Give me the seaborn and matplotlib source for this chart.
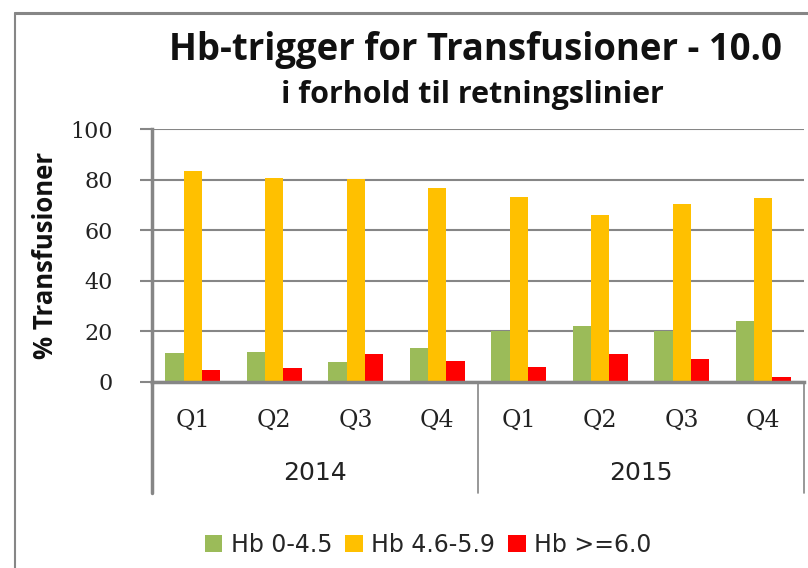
import matplotlib
matplotlib.use("Agg")
import matplotlib.pyplot as plt
import matplotlib.transforms as mtransforms
from matplotlib.patches import Patch
import seaborn as sns
import pandas as pd

years = ["2014", "2014", "2014", "2014", "2015", "2015", "2015", "2015"]
quarters = ["Q1", "Q2", "Q3", "Q4", "Q1", "Q2", "Q3", "Q4"]
series_names = ["Hb 0-4.5", "Hb 4.6-5.9", "Hb >=6.0"]
hb_low = [11.6, 12.0, 8.0, 13.6, 20.2, 22.3, 20.3, 24.2]
hb_mid = [83.5, 80.8, 80.4, 76.8, 73.3, 66.1, 70.5, 72.9]
hb_high = [4.9, 5.7, 11.2, 8.4, 6.1, 11.2, 9.2, 2.1]
yticks = [0, 20, 40, 60, 80, 100]
colors = ["#9BBB59", "#FFC000", "#FF0000"]

periods = [f"{y} {q}" for y, q in zip(years, quarters)]
rows = []
for name, vals in zip(series_names, [hb_low, hb_mid, hb_high]):
    for p, v in zip(periods, vals):
        rows.append({"period": p, "serie": name, "value": v})
df = pd.DataFrame(rows)

sns.set_theme(style="white")
plt.rcParams["font.family"] = ["Open Sans", "DejaVu Sans"]

W, H = 808, 568
fig = plt.figure(figsize=(W / 100, H / 100), dpi=100)
ax = fig.add_axes([152 / W, (H - 382) / H, (804 - 152) / W, (382 - 129) / H])

sns.barplot(data=df, x="period", y="value", hue="serie", order=periods,
            hue_order=series_names, palette=colors, width=0.68, gap=0,
            saturation=1, errorbar=None, ax=ax, legend=False, linewidth=0)

ax.set_ylim(0, 100)
ax.set_xlim(-0.5, 7.5)
ax.set_yticks(yticks)
ax.set_yticklabels([str(t) for t in yticks], family="DejaVu Serif", fontsize=16, color="#222222")
ax.tick_params(axis="y", length=9, width=1.5, color="#868686", pad=19, direction="out", left=True)
ax.tick_params(axis="x", length=0, pad=0)
ax.set_xticks(range(8))
ax.set_xticklabels([])
ax.grid(axis="y", color="#868686", linewidth=1.5)
ax.set_axisbelow(True)
for s in ["top", "right"]:
    ax.spines[s].set_visible(False)
ax.spines["left"].set_color("#868686")
ax.spines["left"].set_linewidth(2.5)
ax.spines["bottom"].set_color("#868686")
ax.spines["bottom"].set_linewidth(2.5)
ax.set_xlabel("")
ax.set_ylabel("% Transfusioner", fontsize=18.5, fontweight="bold", labelpad=8, color="#111111")

trans = mtransforms.blended_transform_factory(ax.transData, ax.transAxes)
px = 1.0 / (382 - 129)
for i, q in enumerate(quarters):
    ax.text(i, -38 * px, q, transform=trans, ha="center", va="center",
            family="DejaVu Serif", fontsize=17, color="#222222")
for x0, lbl in [(1.5, "2014"), (5.5, "2015")]:
    ax.text(x0, -91 * px, lbl, transform=trans, ha="center", va="center",
            family="DejaVu Sans", fontsize=18, color="#222222")
for xs, lw in [(-0.5, 2.5), (3.5, 1.2), (7.5, 1.2)]:
    ax.plot([xs, xs], [0, -111 * px], transform=trans, color="#868686",
            lw=lw, clip_on=False)

fig.text(475 / W, 1 - 50 / H, "Hb-trigger for Transfusioner - 10.0", ha="center",
         va="center", fontsize=26.3, fontweight="bold", color="#111111")
fig.text(472 / W, 1 - 95 / H, "i forhold til retningslinier", ha="center",
         va="center", fontsize=22, fontweight="bold", color="#111111")

handles = [Patch(facecolor=c, edgecolor="none") for c in colors]
fig.legend(handles, series_names, loc="center", bbox_to_anchor=(428 / W, 1 - 545 / H),
           ncol=3, frameon=False, prop={"family": "DejaVu Sans", "size": 17},
           handlelength=0.75, handleheight=0.75,
           handletextpad=0.35, columnspacing=0.55)

# chart border (top and left visible)
fig.add_artist(plt.Line2D([15 / W, 1], [1 - 13 / H, 1 - 13 / H], color="#868686", lw=2.2))
fig.add_artist(plt.Line2D([15 / W, 15 / W], [0, 1 - 13 / H], color="#868686", lw=1.5))

fig.savefig("out.png", dpi=100)
